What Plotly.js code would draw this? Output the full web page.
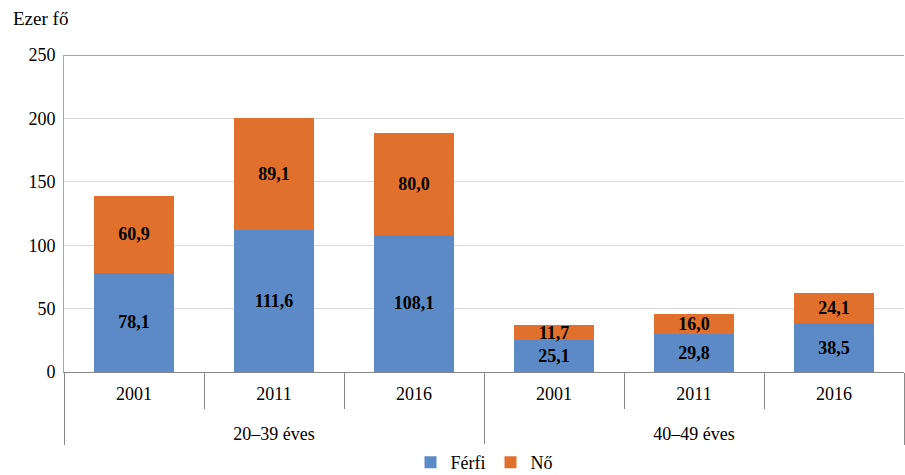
<!DOCTYPE html>
<html>
<head>
<meta charset="utf-8">
<script src="https://cdn.plot.ly/plotly-3.0.1.min.js"></script>
<style>html,body{margin:0;padding:0;background:#fff;}#chart{width:905px;height:475px;}</style>
</head>
<body>
<div id="chart"></div>
<script>
const groups = ["20–39 éves","20–39 éves","20–39 éves","40–49 éves","40–49 éves","40–49 éves"];
const years = ["2001","2011","2016","2001","2011","2016"];
const ferfi = [78.1, 111.6, 108.1, 25.1, 29.8, 38.5];
const no = [60.9, 89.1, 80.0, 11.7, 16.0, 24.1];
const seriesNames = ["Férfi", "Nő"];
const yTicks = [0, 50, 100, 150, 200, 250];

const FONT = "Liberation Serif";
const groupLabels = groups.map(g => "<br>" + g);
const common = {
  x: [groupLabels, years],
  type: "bar",
  texttemplate: "%{y:.1f}",
  textposition: "inside",
  insidetextanchor: "middle",
  constraintext: "none",
  textfont: {family: FONT, size: 18, color: "#000", weight: "bold"},
  hoverinfo: "none"
};
const data = [
  Object.assign({}, common, {y: ferfi, name: seriesNames[0], marker: {color: "#5b8ac6"}}),
  Object.assign({}, common, {y: no, name: seriesNames[1], marker: {color: "#e0702c"}})
];
const layout = {
  width: 905, height: 475,
  margin: {l: 64, r: 1, t: 55, b: 103},
  barmode: "stack",
  bargap: 0.43,
  separators: ", ",
  font: {family: FONT, size: 18, color: "#000"},
  paper_bgcolor: "#fff", plot_bgcolor: "#fff",
  showlegend: true,
  legend: {orientation: "h", x: 0.5, xanchor: "center", yref: "container", y: 0.026, yanchor: "middle",
           font: {family: FONT, size: 18, color: "#000"}, traceorder: "normal"},
  xaxis: {
    type: "multicategory",
    showline: true, linecolor: "#898989", linewidth: 1,
    ticks: "outside", ticklen: 36, tickcolor: "#898989", tickwidth: 1,
    tickson: "boundaries",
    ticklabelstandoff: 5,
    showdividers: true, dividercolor: "#898989", dividerwidth: 1,
    tickfont: {family: FONT, size: 18, color: "#000"},
    showgrid: false, zeroline: false, fixedrange: true
  },
  yaxis: {
    range: [0, 250], tickvals: yTicks, ticktext: yTicks.map(String),
    showgrid: true, gridcolor: "#d9d9d9", gridwidth: 1,
    showline: true, linecolor: "#a6a6a6", linewidth: 1,
    zeroline: false, ticks: "", ticklen: 0, ticklabelstandoff: 4,
    tickfont: {family: FONT, size: 18, color: "#000"},
    fixedrange: true
  },
  shapes: [
    {type: "line", xref: "paper", yref: "y", x0: 0, x1: 1, y0: 250, y1: 250,
     line: {color: "#898989", width: 1.5}}
  ],
  annotations: [
    {text: "Ezer fő", xref: "paper", yref: "paper", x: -0.063, y: 1.115,
     xanchor: "left", yanchor: "middle", showarrow: false,
     font: {family: FONT, size: 19, color: "#000"}}
  ]
};
Plotly.newPlot("chart", data, layout, {displayModeBar: false, staticPlot: true});
</script>
</body>
</html>
